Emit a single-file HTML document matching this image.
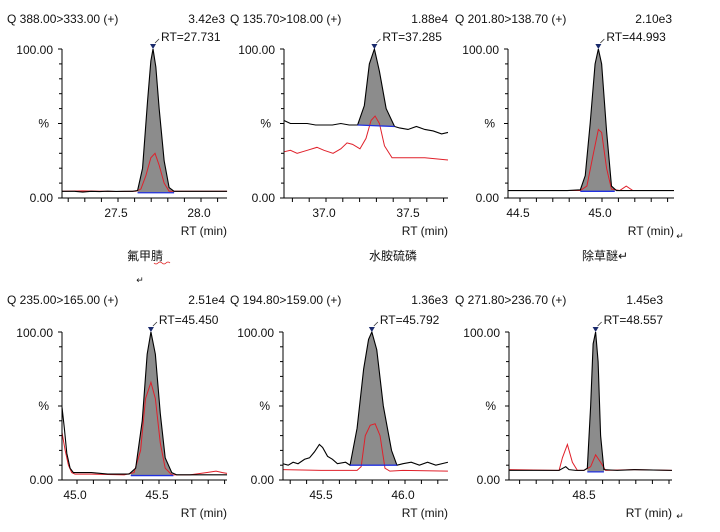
<!DOCTYPE html>
<html><head><meta charset="utf-8"><style>
html,body{margin:0;padding:0;background:#fff;width:720px;height:532px;overflow:hidden}
svg text{font-family:"Liberation Sans","Noto Sans CJK SC",sans-serif;fill:#111}
</style></head><body>
<svg id="chart" width="720" height="532" xmlns="http://www.w3.org/2000/svg"></svg>
<script>
// ---- data (time in min, intensity in %) ----
const p1BlackT=[27.175,27.25,27.3,27.35,27.4,27.45,27.5,27.55,27.6,27.63,27.66,27.69,27.71,27.723,27.74,27.76,27.79,27.82,27.85,27.9,28.0,28.1,28.169];
const p1BlackV=[4.5,4.5,4,4.5,4.3,4.6,4.4,4.5,4.5,5,20,65,92,100,88,60,25,7,4.5,4.5,4.5,4.5,4.5];
const p1RedT=[27.175,27.3,27.5,27.62,27.65,27.68,27.71,27.735,27.76,27.79,27.82,27.86,28.0,28.169];
const p1RedV=[4.5,4.8,4.4,4.5,6,15,27,30,22,10,4.5,4.5,4.5,4.5];
const p2BlackT=[36.762,36.8,36.85,36.9,36.95,37.0,37.05,37.1,37.15,37.2,37.24,37.27,37.30,37.33,37.37,37.42,37.45,37.5,37.55,37.6,37.65,37.7,37.738];
const p2BlackV=[52,50,50,50,49,49,49,50,49,49,62,90,100,85,60,48,47,46,48,46,45,43,44];
const p2RedT=[36.762,36.8,36.84,36.9,36.958,37.0,37.054,37.1,37.137,37.17,37.214,37.25,37.28,37.304,37.33,37.36,37.405,37.5,37.6,37.738];
const p2RedV=[31,32,30,32,34,32,30,33,37,36,33,40,52,55,50,35,27,27,27,25.5];
const p3BlackT=[44.439,44.6,44.8,44.88,44.91,44.94,44.97,44.99,45.01,45.04,45.07,45.1,45.2,45.451];
const p3BlackV=[5,5,5,5.5,15,50,90,100,90,45,8,5,5,5];
const p3RedT=[44.439,44.88,44.92,44.96,44.99,45.01,45.04,45.07,45.12,45.16,45.2,45.451];
const p3RedV=[5,5,8,30,46,44,20,6,5,8,5,5];
const p4BlackT=[44.921,44.935,44.95,44.97,44.99,45.0,45.1,45.2,45.33,45.37,45.41,45.44,45.463,45.49,45.52,45.55,45.59,45.62,45.7,45.8,45.927];
const p4BlackV=[49,35,18,8,5,5,5,4,4,8,40,85,100,85,45,15,5,3.5,3.5,3.5,3.5];
const p4RedT=[44.921,44.94,44.96,44.98,45.0,45.1,45.3,45.36,45.4,45.43,45.463,45.49,45.52,45.55,45.59,45.7,45.8,45.86,45.9,45.927];
const p4RedV=[32,20,10,5,4,4,3.5,5,20,55,66,55,25,8,3.5,3.5,5,6,5,4.5];
const p5BlackT=[45.268,45.3,45.33,45.36,45.4,45.43,45.46,45.49,45.51,45.54,45.57,45.6,45.65,45.677,45.72,45.76,45.79,45.81,45.84,45.88,45.93,45.963,46.0,46.05,46.1,46.15,46.2,46.274];
const p5BlackV=[11,10,12,11,14,15,19,24,22,16,14,11,12,10,35,75,95,100,88,50,20,10,11,12,10,12,10,12];
const p5RedT=[45.268,45.5,45.72,45.745,45.77,45.8,45.83,45.86,45.89,45.92,46.0,46.274];
const p5RedV=[7,6.5,6.5,9,30,37,38,30,8,6,6.5,6];
const p6BlackT=[48.048,48.2,48.35,48.39,48.41,48.45,48.5,48.52,48.54,48.555,48.57,48.585,48.6,48.62,48.7,48.8,49.03];
const p6BlackV=[6.5,6.5,6.5,9,7,6.5,6.5,8,50,92,100,80,30,7,6.5,7,6.5];
const p6RedT=[48.048,48.35,48.37,48.4,48.43,48.46,48.5,48.54,48.57,48.6,48.63,48.8,49.03];
const p6RedV=[7,6.5,15,24,12,6.5,6.5,9,17,12,6.5,7,6.5];
const headers=["Q 388.00>333.00 (+)","Q 135.70>108.00 (+)","Q 201.80>138.70 (+)","Q 235.00>165.00 (+)","Q 194.80>159.00 (+)","Q 271.80>236.70 (+)"];
const maxima=["3.42e3","1.88e4","2.10e3","2.51e4","1.36e3","1.45e3"];
const rtLabels=["RT=27.731","RT=37.285","RT=44.993","RT=45.450","RT=45.792","RT=48.557"];
const peakRT=[27.723,37.30,44.99,45.463,45.81,48.57];
const fillStart=[27.63,37.2,44.88,45.34,45.677,48.52];
const fillEnd=[27.85,37.42,45.09,45.6,45.963,48.62];
const blueV=[[3.5,3.5],[49,48],[4.5,4.5],[3,3],[10,10],[5.5,5.5]];
const xTickLabels=[["27.5","28.0"],["37.0","37.5"],["44.5","45.0"],["45.0","45.5"],["45.5","46.0"],["48.5"]];
const xTickVals=[[27.5,28.0],[37.0,37.5],[44.5,45.0],[45.0,45.5],[45.5,46.0],[48.5]];
const compoundNames=["氟甲腈","水胺硫磷","除草醚↵","","",""];
// ---- layout ----
const L=[
 {l:62,r:227,top:49,bot:198,t0:27.5,x0:116,ppm:166,hx:7,hr:225,hy:23},
 {l:284,r:448,top:49,bot:198,t0:37.0,x0:324,ppm:168,hx:230,hr:448,hy:23},
 {l:508,r:674,top:49,bot:198,t0:44.5,x0:518,ppm:164,hx:455,hr:672,hy:23},
 {l:62,r:227,top:332,bot:480,t0:45.0,x0:75,ppm:164,hx:7,hr:225,hy:304},
 {l:283,r:448,top:332,bot:480,t0:45.5,x0:321,ppm:164,hx:230,hr:448,hy:304},
 {l:509,r:672,top:332,bot:480,t0:48.5,x0:584,ppm:166,hx:455,hr:663,hy:304}];
const series=[[p1BlackT,p1BlackV,p1RedT,p1RedV],[p2BlackT,p2BlackV,p2RedT,p2RedV],[p3BlackT,p3BlackV,p3RedT,p3RedV],
 [p4BlackT,p4BlackV,p4RedT,p4RedV],[p5BlackT,p5BlackV,p5RedT,p5RedV],[p6BlackT,p6BlackV,p6RedT,p6RedV]];
const svg=document.getElementById('chart');
const NS="http://www.w3.org/2000/svg";
function mk(tag,attrs,parent){const e=document.createElementNS(NS,tag);for(const k in attrs)e.setAttribute(k,attrs[k]);(parent||svg).appendChild(e);return e;}
function txt(s,x,y,anchor,size,parent){const e=mk('text',{x:x,y:y,'text-anchor':anchor||'start','font-size':size||12},parent);e.textContent=s;return e;}
function interp(T,V,t){if(t<=T[0])return V[0];for(let i=1;i<T.length;i++){if(t<=T[i]){const f=(t-T[i-1])/(T[i]-T[i-1]);return V[i-1]+f*(V[i]-V[i-1]);}}return V[V.length-1];}
for(let p=0;p<6;p++){
 const c=L[p];
 const xs=t=>c.x0+(t-c.t0)*c.ppm;
 const ys=v=>c.bot-v/100*(c.bot-c.top);
 const g=mk('g',{});
 
 
 const h=txt(headers[p],c.hx,c.hy,'start',12,g);
 
 
 const m=txt(maxima[p],c.hr,c.hy,'end',12,g);
 
 
 const [bT,bV,rT,rV]=series[p];
 // fill
 const fs=fillStart[p],fe=fillEnd[p];
 const pts=[[xs(fs),ys(blueV[p][0])]];
 pts.push([xs(fs),ys(interp(bT,bV,fs))]);
 for(let i=0;i<bT.length;i++){if(bT[i]>fs&&bT[i]<fe)pts.push([xs(bT[i]),ys(bV[i])]);}
 pts.push([xs(fe),ys(interp(bT,bV,fe))]);
 pts.push([xs(fe),ys(blueV[p][1])]);
 const fill=mk('polygon',{points:pts.map(q=>q.join(',')).join(' '),fill:'#8c8c8c',stroke:'none'},g);
 
 
 const red=mk('polyline',{points:rT.map((t,i)=>xs(t)+','+ys(rV[i])).join(' '),fill:'none',stroke:'#e0202a','stroke-width':1},g);
 
 
 const blk=mk('polyline',{points:bT.map((t,i)=>xs(t)+','+ys(bV[i])).join(' '),fill:'none',stroke:'#000','stroke-width':1.1},g);
 
 
 const bl=mk('line',{x1:xs(fs),y1:ys(blueV[p][0]),x2:xs(fe),y2:ys(blueV[p][1]),stroke:'#2030e0','stroke-width':1.3},g);
 
 
 // axes
 mk('line',{x1:c.l,y1:c.top,x2:c.l,y2:c.bot,stroke:'#000'},g);
 mk('line',{x1:c.l,y1:c.bot,x2:c.r,y2:c.bot,stroke:'#000'},g);
 for(let k=0;k<=10;k++){const y=ys(k*10);mk('line',{x1:c.l-(k%5==0?4:3),y1:y,x2:c.l,y2:y,stroke:'#000'},g);}
 const step=c.ppm*0.1;
 for(let x=c.x0+2+Math.ceil((c.l-c.x0)/step)*step;x<=c.r;x+=step){mk('line',{x1:x,y1:c.bot,x2:x,y2:c.bot+4,stroke:'#000'},g);}
 txt("100.00",c.l-9,c.top+5,'end',12,g);
 txt("%",c.l-13,ys(50)+4,'end',12,g);
 txt("0.00",c.l-9,c.bot+4,'end',12,g);
 xTickLabels[p].forEach((s,i)=>{const e=txt(s,xs(xTickVals[p][i]),c.bot+19,'middle',12,g);
  
  });
 const xt=txt("RT (min)",c.r,c.bot+37,'end',12,g);
 
 
 // peak marker
 const px=xs(peakRT[p]),py=c.top;
 mk('polygon',{points:(px-3)+','+(py-5)+' '+(px+3)+','+(py-5)+' '+px+','+(py)+'',fill:'#1a2a6c'},g);
 mk('line',{x1:px+2,y1:py-6,x2:px+6,y2:py-10,stroke:'#333','stroke-width':0.8},g);
 const rl=txt(rtLabels[p],px+8,py-8,'start',12,g);
 
 
}
const nm=[[145,260],[393,260],[605,260]];
nm.forEach((q,i)=>{const e=txt(compoundNames[i],q[0],q[1],'middle',12);
 
 });
mk('path',{d:'M154 263 q2 2 4 0 q2 -2 4 0 q2 2 4 0 q2 -2 4 0',stroke:'#e02020',fill:'none','stroke-width':0.8});
txt("↵",140,283,'middle',9);
txt("↵",680,239,'middle',9);
txt("↵",680,519,'middle',9);
</script>
</body></html>
